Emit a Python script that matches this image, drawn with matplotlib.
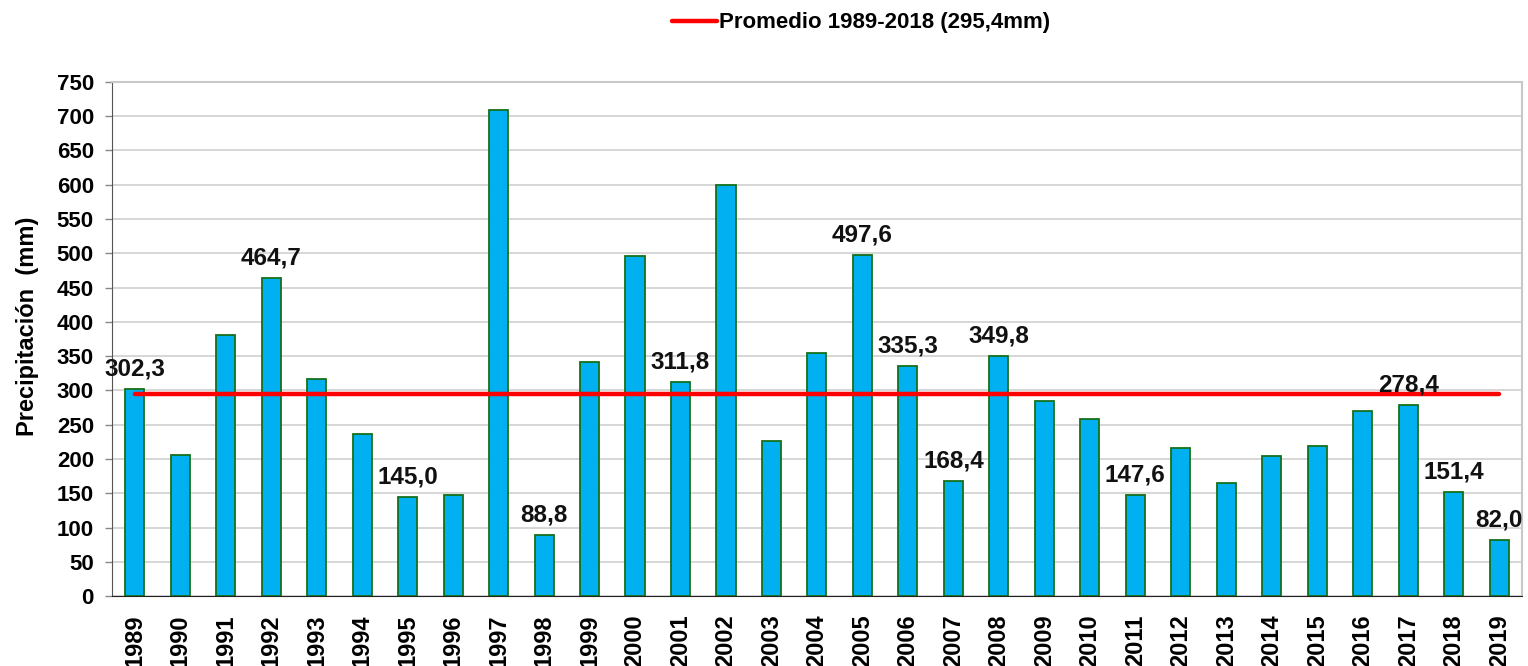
import matplotlib.pyplot as plt
import numpy as np

plt.rcParams['font.family'] = ['Liberation Sans', 'DejaVu Sans']

# annual precipitation (mm)
years = [str(y) for y in range(1989, 2020)]
precip = [302.3, 205.5, 381.0, 464.7, 317.0, 236.0, 145.0, 147.8, 709.0, 88.8,
          341.5, 495.5, 311.8, 599.5, 225.5, 355.0, 497.6, 335.3, 168.4, 349.8,
          285.0, 258.0, 147.6, 216.0, 165.5, 204.0, 218.5, 269.5, 278.4, 151.4,
          82.0]
# which bars carry a value label
labelled = ['1989', '1992', '1995', '1998', '2001', '2005', '2006', '2007',
            '2008', '2011', '2017', '2018', '2019']
mean_value = 295.4
mean_label = "Promedio 1989-2018 (295,4mm)"

fig = plt.figure(figsize=(15.28, 6.66), dpi=100)
ax = fig.add_axes([0.0733, 0.105, 0.9227, 0.772])

x = np.arange(len(years))
ax.bar(x, precip, width=0.42, color='#00B0F0', edgecolor='#16701A',
       linewidth=1.3, zorder=3)

line, = ax.plot([x[0], x[-1]], [mean_value, mean_value], color='#FF0000',
                linewidth=3.2, solid_capstyle='round', zorder=4)

for i, yr in enumerate(years):
    if yr in labelled:
        txt = f"{precip[i]:.1f}".replace('.', ',')
        ax.annotate(txt, (x[i], precip[i]), xytext=(0, 6),
                    textcoords='offset points', ha='center', va='bottom',
                    fontsize=17.5, fontweight='bold', color='#111111', zorder=5)

ax.set_xlim(-0.5, len(years) - 0.5)
ax.set_ylim(0, 750)
ax.set_yticks(np.arange(0, 751, 50))
ax.set_xticks(x)
ax.set_xticklabels(years, rotation=90, fontsize=17, fontweight='bold')
for lab in ax.get_yticklabels():
    lab.set_fontsize(16)
    lab.set_fontweight('bold')
ax.tick_params(axis='x', length=0, pad=13)
ax.tick_params(axis='y', length=5, width=1, color='#888888', pad=8)

ax.grid(axis='y', color='#D0D0D0', linewidth=1.2, zorder=0)
ax.set_axisbelow(True)
ax.spines['top'].set_color('#C8C8C8')
ax.spines['right'].set_color('#C8C8C8')
ax.spines['left'].set_color('#555555')
ax.spines['bottom'].set_color('#222222')
ax.spines['top'].set_linewidth(1.5)
ax.spines['right'].set_linewidth(1.5)

ax.set_ylabel("Precipitación  (mm)", fontsize=17, fontweight='bold')
ax.yaxis.set_label_coords(-0.052, 0.525)

fig.legend([line], [mean_label], loc='center', bbox_to_anchor=(0.5635, 0.9655),
           frameon=False, handlelength=2.0, handletextpad=0.1,
           prop={'size': 16, 'weight': 'bold'})

fig.savefig("out.png", dpi=100)
